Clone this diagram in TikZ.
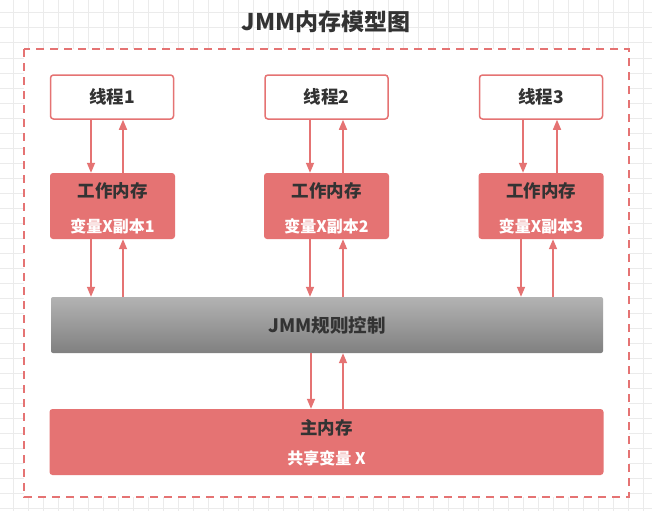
\documentclass[tikz,border=0pt]{standalone}
\usepackage{fontspec}
\setmainfont{Noto Sans CJK SC}
\usetikzlibrary{arrows.meta}
\definecolor{jred}{HTML}{E57373}
\definecolor{jdark}{HTML}{333333}
\definecolor{jgrid}{HTML}{EBEBEB}
\definecolor{jgtop}{HTML}{B3B3B3}
\definecolor{jgbot}{HTML}{808080}
\tikzset{
  threadbox/.style={draw=jred, line width=1.5pt, fill=white, rounded corners=3pt,
    minimum width=123pt, minimum height=44pt, inner sep=0pt,
    font=\fontsize{17.5}{20}\selectfont\bfseries, text=jdark},
  workbox/.style={fill=jred, rounded corners=3pt, minimum width=125pt, minimum height=66pt, inner sep=0pt},
  darktxt/.style={inner sep=0pt, font=\fontsize{17.5}{20}\selectfont\bfseries, text=jdark},
  whitetxt/.style={inner sep=0pt, font=\fontsize{16}{19}\selectfont\bfseries, text=white},
  jmmbar/.style={top color=jgtop, bottom color=jgbot, rounded corners=2pt, minimum width=552pt, minimum height=56pt, inner sep=0pt,
    font=\fontsize{18.5}{21}\selectfont\bfseries, text=jdark},
  mainbox/.style={fill=jred, rounded corners=3pt, minimum width=554pt, minimum height=66pt, inner sep=0pt},
  arr/.style={draw=jred, line width=1.5pt, -{Triangle[length=10pt,width=8pt]}},
}
\begin{document}
\begin{tikzpicture}[x=1pt,y=-1pt]
\useasboundingbox (0,0) rectangle (652,511);
\fill[white] (0,0) rectangle (652,511);
\foreach \gx in {13,28,...,652} \draw[jgrid, line width=1pt] (\gx,0) -- (\gx,511);
\foreach \gy in {13,28,...,511} \draw[jgrid, line width=1pt] (0,\gy) -- (652,\gy);
\draw[jred, line width=2pt, fill=white, dash pattern=on 8pt off 6pt] (24,49) rectangle (629,497);
\node[inner sep=0pt, font=\fontsize{23}{27}\selectfont\bfseries, text=jdark] (title) at (326,22) {JMM内存模型图};

\node[threadbox] (t1) at (112,97) {线程1};
\node[threadbox] (t2) at (326.5,97) {线程2};
\node[threadbox] (t3) at (541,97) {线程3};

\node[workbox] (w1) at (112.5,206) {};
\node[workbox] (w2) at (326.5,206) {};
\node[workbox] (w3) at (541,206) {};
\foreach \i in {1,2,3} {
  \node[darktxt] (w\i a) at ([yshift=-18pt]w\i.north) {工作内存};
  \node[whitetxt] (w\i b) at ([yshift=12.5pt]w\i.south) {变量X副本\i};
}

\node[jmmbar] (jmm) at (327,325) {JMM规则控制};

\node[mainbox] (mm) at (326.5,442) {};
\node[darktxt] (mma) at ([yshift=-19pt]mm.north) {主内存};
\node[whitetxt] (mmb) at ([yshift=17pt]mm.south) {共享变量 X};

% thread <-> working memory
\draw[arr] (t1.south -| 91,0) -- (w1.north -| 91,0);
\draw[arr] (w1.north -| 123,0) -- (t1.south -| 123,0);
\draw[arr] (t2.south -| 310,0) -- (w2.north -| 310,0);
\draw[arr] (w2.north -| 343,0) -- (t2.south -| 343,0);
\draw[arr] (t3.south -| 523,0) -- (w3.north -| 523,0);
\draw[arr] (w3.north -| 557,0) -- (t3.south -| 557,0);
% working memory <-> JMM
\draw[arr] (w1.south -| 91,0) -- (jmm.north -| 91,0);
\draw[arr] (jmm.north -| 123,0) -- (w1.south -| 123,0);
\draw[arr] (w2.south -| 310,0) -- (jmm.north -| 310,0);
\draw[arr] (jmm.north -| 343,0) -- (w2.south -| 343,0);
\draw[arr] (w3.south -| 521,0) -- (jmm.north -| 521,0);
\draw[arr] (jmm.north -| 553,0) -- (w3.south -| 553,0);
% JMM <-> main memory
\draw[arr] (jmm.south -| 311,0) -- (mm.north -| 311,0);
\draw[arr] (mm.north -| 343,0) -- (jmm.south -| 343,0);
\end{tikzpicture}
\end{document}
